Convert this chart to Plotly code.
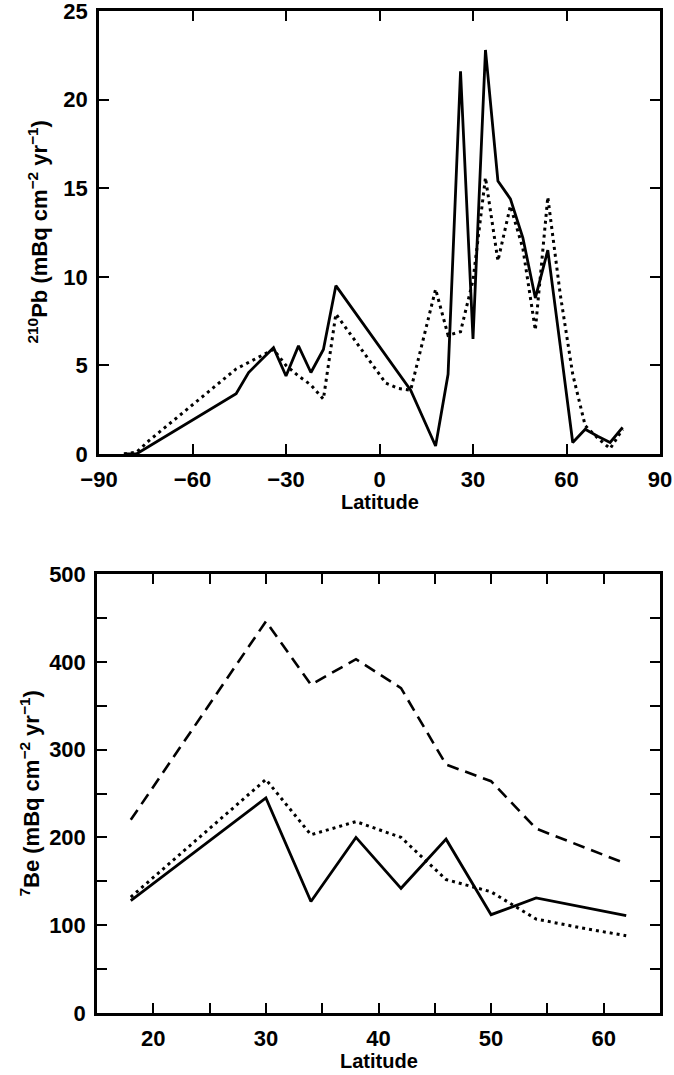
import plotly.graph_objects as go

# ---- Top panel: 210Pb deposition vs latitude ----
pb_lat_solid = [-82, -78, -46, -42, -38, -34, -30, -26, -22, -18, -14, 10, 18, 22, 26, 30, 34, 38, 42, 46, 50, 54, 58, 62, 66, 70, 74, 78]
pb_solid = [0.0, 0.0, 3.4, 4.6, 5.3, 6.0, 4.4, 6.1, 4.6, 5.9, 9.5, 3.6, 0.45, 4.5, 21.6, 6.5, 22.8, 15.4, 14.4, 12.2, 8.8, 11.5, 6.1, 0.65, 1.4, 1.0, 0.65, 1.5]

pb_lat_dot = [-82, -78, -74, -46, -34, -30, -26, -22, -18, -14, 2, 6, 10, 18, 22, 26, 30, 34, 38, 42, 46, 50, 54, 58, 62, 66, 70, 74, 78]
pb_dot = [0.0, 0.1, 0.75, 4.8, 5.9, 5.0, 4.4, 3.9, 3.1, 7.9, 4.0, 3.7, 3.6, 9.3, 6.7, 6.9, 9.8, 15.6, 10.9, 14.0, 11.6, 7.0, 14.5, 9.0, 4.5, 1.6, 0.9, 0.3, 1.4]

# ---- Bottom panel: 7Be deposition vs latitude ----
be_lat_solid = [18, 30, 34, 38, 42, 46, 50, 54, 62]
be_solid = [128, 245, 127, 200, 142, 198, 112, 131, 111]

be_lat_dot = [18, 30, 34, 38, 42, 46, 50, 54, 58, 62]
be_dot = [132, 266, 203, 218, 200, 152, 138, 107, 97, 88]

be_lat_dash = [18, 30, 34, 38, 42, 46, 50, 54, 62]
be_dash = [220, 446, 374, 403, 370, 283, 264, 210, 170]

top_xticks = [-90, -60, -30, 0, 30, 60, 90]
top_yticks = [0, 5, 10, 15, 20, 25]
bot_xticks = [20, 30, 40, 50, 60]
bot_yticks = [0, 100, 200, 300, 400, 500]

x_title = "Latitude"
top_y_title = "<sup>210</sup>Pb (mBq cm<sup>\u22122</sup> yr<sup>\u22121</sup>)"
bot_y_title = "<sup>7</sup>Be (mBq cm<sup>\u22122</sup> yr<sup>\u22121</sup>)"

W, H = 674, 1075
fig = go.Figure()

solid = dict(color="black", width=2.8)
dotted = dict(color="black", width=3, dash="3px,4px")
dashed = dict(color="black", width=2.6, dash="12px,7px")

fig.add_trace(go.Scatter(x=pb_lat_dot, y=pb_dot, mode="lines", line=dotted, xaxis="x", yaxis="y", showlegend=False))
fig.add_trace(go.Scatter(x=pb_lat_solid, y=pb_solid, mode="lines", line=solid, xaxis="x", yaxis="y", showlegend=False))

fig.add_trace(go.Scatter(x=be_lat_dash, y=be_dash, mode="lines", line=dashed, xaxis="x2", yaxis="y2", showlegend=False))
fig.add_trace(go.Scatter(x=be_lat_dot, y=be_dot, mode="lines", line=dotted, xaxis="x2", yaxis="y2", showlegend=False))
fig.add_trace(go.Scatter(x=be_lat_solid, y=be_solid, mode="lines", line=solid, xaxis="x2", yaxis="y2", showlegend=False))

tick_font = dict(size=22, family="Liberation Sans", color="black", weight="bold")
axis_common = dict(
    showline=True, linecolor="black", linewidth=2.5, mirror="ticks",
    ticks="inside", ticklen=10, tickwidth=2.2, tickcolor="black",
    showgrid=False, zeroline=False, tickfont=tick_font, automargin=False,
    ticklabeloverflow="allow", ticklabelstandoff=4,
)
xtitle_font = dict(size=20, family="Liberation Sans", color="black", weight="bold")
ytitle_font = dict(size=22, family="Liberation Sans", color="black", weight="bold")

minor_x = dict(dtick=5, tick0=0, ticks="inside", ticklen=10, tickwidth=2.2, tickcolor="black")
minor_y = dict(dtick=50, tick0=0, ticks="inside", ticklen=10, tickwidth=2.2, tickcolor="black")

top_dom_x = [99 / W, 660 / W]
top_dom_y = [1 - 454 / H, 1 - 11 / H]
bot_dom_x = [97 / W, 660 / W]
bot_dom_y = [1 - 1013 / H, 1 - 574 / H]

fig.update_layout(
    width=W, height=H,
    margin=dict(l=0, r=0, t=0, b=0, autoexpand=False),
    paper_bgcolor="white", plot_bgcolor="white",
    font=dict(family="Liberation Sans", color="black"),
    xaxis=dict(domain=top_dom_x, range=[-90, 90], tickmode="array", tickvals=top_xticks, anchor="y", **axis_common),
    yaxis=dict(domain=top_dom_y, range=[0, 25], tickmode="array", tickvals=top_yticks, anchor="x", **axis_common),
    xaxis2=dict(domain=bot_dom_x, range=[15, 65], tickmode="array", tickvals=bot_xticks, anchor="y2",
                minor=minor_x, **axis_common),
    yaxis2=dict(domain=bot_dom_y, range=[0, 500], tickmode="array", tickvals=bot_yticks, anchor="x2",
                minor=minor_y, **axis_common),
)

ann = [
    dict(text=x_title, x=(top_dom_x[0] + top_dom_x[1]) / 2, y=1 - 502 / H, font=xtitle_font),
    dict(text=x_title, x=(bot_dom_x[0] + bot_dom_x[1]) / 2, y=1 - 1061 / H, font=xtitle_font),
    dict(text=top_y_title, x=38 / W, y=(top_dom_y[0] + top_dom_y[1]) / 2, textangle=-90, font=ytitle_font),
    dict(text=bot_y_title, x=29 / W, y=(bot_dom_y[0] + bot_dom_y[1]) / 2, textangle=-90, font=ytitle_font),
]
for a in ann:
    fig.add_annotation(xref="paper", yref="paper", xanchor="center", yanchor="middle", showarrow=False, **a)

fig.write_html(
    "out.html",
    config={"displayModeBar": False},
    post_script="document.body.style.margin='0';document.body.style.overflow='hidden';",
)
